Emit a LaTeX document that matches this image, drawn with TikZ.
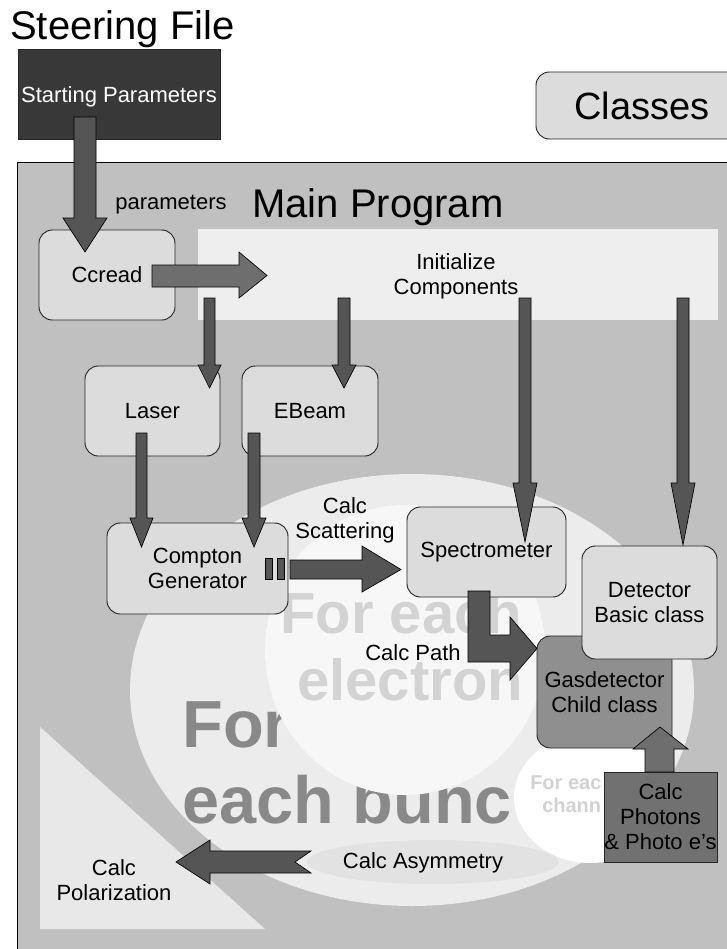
\documentclass[tikz,border=0pt]{standalone}
\usepackage{fontspec}
\setmainfont{Liberation Sans}
\definecolor{panel}{HTML}{C0C0C0}
\definecolor{boxfill}{HTML}{DCDCDC}
\definecolor{bandfill}{HTML}{EEEEEE}
\definecolor{arrowfill}{HTML}{555555}
\definecolor{arrowlight}{HTML}{6E6E6E}
\definecolor{darkbox}{HTML}{383838}
\definecolor{gasfill}{HTML}{8F8F8F}
\definecolor{photfill}{HTML}{717171}
\definecolor{bigell}{HTML}{ECECEC}
\definecolor{innerell}{HTML}{F7F7F7}
\definecolor{asymell}{HTML}{E2E2E2}
\definecolor{trifill}{HTML}{E8E8E8}
\definecolor{bunchtext}{HTML}{898989}
\definecolor{electext}{HTML}{D3D3D3}
\definecolor{chantext}{HTML}{D2D2D2}
\newcommand{\pxl}[1]{#1*0.75pt}
\newcommand{\fbody}{\fontsize{16.5}{18.75}\selectfont}
\newcommand{\fbig}{\fontsize{30}{34}\selectfont}
\tikzset{
  rbox/.style={draw=black!85, fill=boxfill, rounded corners=10pt, line width=0.7pt,
    inner sep=0pt, align=center, font=\fbody},
  sqbox/.style={draw=black!85, line width=0.7pt, inner sep=0pt, align=center, font=\fbody},
  blockarrow/.style={fill=arrowfill, draw=black, line width=0.5pt},
  lbl/.style={inner sep=0pt, align=center, font=\fbody},
  bunchlbl/.style={inner sep=0pt, anchor=base west, text=bunchtext,
    font=\fontsize{50}{56}\selectfont\bfseries},
  eleclbl/.style={inner sep=0pt, anchor=base west, text=electext,
    font=\fontsize{43.5}{48}\selectfont\bfseries},
  chanlbl/.style={inner sep=0pt, anchor=base west, text=chantext,
    font=\fontsize{15}{17}\selectfont\bfseries},
}
\begin{document}
\begin{tikzpicture}[x=0.75pt, y=-0.75pt]
\useasboundingbox (0,0) rectangle (727,949);
\clip (0,0) rectangle (727,949);
\fill[white] (0,0) rectangle (727,949);

% main program panel
\draw[fill=panel, line width=0.7pt] (17,162) rectangle (770,1000);
\fill[bandfill] (198,229) rectangle (718,320);

% nested loop regions
\fill[bigell] (412,690) ellipse [x radius=282, y radius=216];
\node[bunchlbl] (bunchA) at (182,747) {For};
\node[bunchlbl] (bunchB) at (182,823) {each bunc};
\fill[innerell] (405,650) ellipse [x radius=140, y radius=145];
\node[eleclbl] (elecA) at (280,633) {For each};
\node[eleclbl] (elecB) at (297,700) {electron};
\fill[white] (590,798) ellipse [x radius=76, y radius=65];
\node[chanlbl] (chanA) at (530,789) {For eac};
\node[chanlbl] (chanB) at (542,812) {chann};
\fill[trifill] (40,727) -- (40,929) -- (265,929) -- cycle;
\fill[asymell] (433,862) ellipse [x radius=126, y radius=22];

% titles and labels
\node[inner sep=0pt, anchor=base west, font=\fbig] (steering) at (10,40) {Steering File};
\node[inner sep=0pt, anchor=base west, font=\fbig] (mainprog) at (252,217) {Main Program};
\node[lbl, anchor=base] (paramlbl) at (171,209) {parameters};
\node[lbl] (initlbl) at (456,276) {Initialize\\Components};
\node[lbl] (scatlbl) at (345,520) {Calc\\Scattering};
\node[lbl] (pathlbl) at (413,653) {Calc Path};
\node[lbl] (asymlbl) at (423,863) {Calc Asymmetry};
\node[lbl] (polarlbl) at (114,880) {Calc\\Polarization};

% boxes
\node[sqbox, fill=darkbox, minimum width=\pxl{202}, minimum height=\pxl{90}] (start) at (119,94) {};
\node[lbl, text=white] (startlbl) at (119,97) {Starting Parameters};
\draw[draw=black!85, fill=boxfill, rounded corners=10pt, line width=0.7pt] (536,72) rectangle (770,139);
\node[inner sep=0pt, font=\fontsize{28.5}{32}\selectfont] (classes) at (642,106) {Classes};
\node[rbox, minimum width=\pxl{136}, minimum height=\pxl{90}] (ccread) at (107,275) {Ccread};
\node[rbox, minimum width=\pxl{135}, minimum height=\pxl{90}] (laser) at (152.5,411) {Laser};
\node[rbox, minimum width=\pxl{136}, minimum height=\pxl{90}] (ebeam) at (310,411) {EBeam};
\node[rbox, minimum width=\pxl{181}, minimum height=\pxl{91}] (compton) at (197.5,568.5) {Compton\\Generator};
\node[rbox, minimum width=\pxl{159}, minimum height=\pxl{90}] (spectro) at (486.5,552) {Spectrometer};
\node[rbox, fill=gasfill, minimum width=\pxl{135}, minimum height=\pxl{112}] (gas) at (604.5,692) {Gasdetector\\Child class};
\node[rbox, minimum width=\pxl{135}, minimum height=\pxl{113}] (detector) at (649.5,602.5) {Detector\\Basic class};
\node[sqbox, fill=photfill, minimum width=\pxl{113}, minimum height=\pxl{90}] (photons) at (660.5,817) {Calc\\Photons\\\& Photo e's};

% block arrows
\draw[blockarrow] (74,117) -- (96,117) -- (96,218) -- (107,218) -- (85,252) -- (63,218) -- (74,218) -- cycle;
\draw[blockarrow, fill=arrowlight] (152,265) -- (239,265) -- (239,252) -- (267,275.5) -- (239,298) -- (239,287) -- (152,287) -- cycle;
\draw[blockarrow] (204,298) -- (215,298) -- (215,365) -- (221,365) -- (209.5,388) -- (198,365) -- (204,365) -- cycle;
\draw[blockarrow] (338,298) -- (350,298) -- (350,365) -- (356,365) -- (344,388) -- (332,365) -- (338,365) -- cycle;
\draw[blockarrow] (519,298) -- (531,298) -- (531,483) -- (537,483) -- (525,542) -- (513,483) -- (519,483) -- cycle;
\draw[blockarrow] (677,298) -- (689,298) -- (689,483) -- (695,483) -- (683,545) -- (671,483) -- (677,483) -- cycle;
\draw[blockarrow] (136,433) -- (147,433) -- (147,518) -- (153,518) -- (141.5,547) -- (130,518) -- (136,518) -- cycle;
\draw[blockarrow] (248,433) -- (260,433) -- (260,518) -- (266,518) -- (254,547) -- (242,518) -- (248,518) -- cycle;
\draw[blockarrow] (265,558) rectangle (272,579);
\draw[blockarrow] (277,558) rectangle (284,579);
\draw[blockarrow] (290,560) -- (362,560) -- (362,546) -- (401,569.5) -- (362,592) -- (362,579) -- (290,579) -- cycle;
\draw[blockarrow] (468,591) -- (490,591) -- (490,635) -- (510,635) -- (510,617) -- (537,648.5) -- (510,680) -- (510,662) -- (468,662) -- cycle;
\draw[blockarrow, fill=arrowlight] (645,772) -- (645,749) -- (633,749) -- (660,727) -- (688,749) -- (674,749) -- (674,772) -- cycle;
\draw[blockarrow] (176,862) -- (210,840) -- (210,851) -- (311,851) -- (295,862) -- (311,873) -- (210,873) -- (210,884) -- cycle;
\end{tikzpicture}
\end{document}
